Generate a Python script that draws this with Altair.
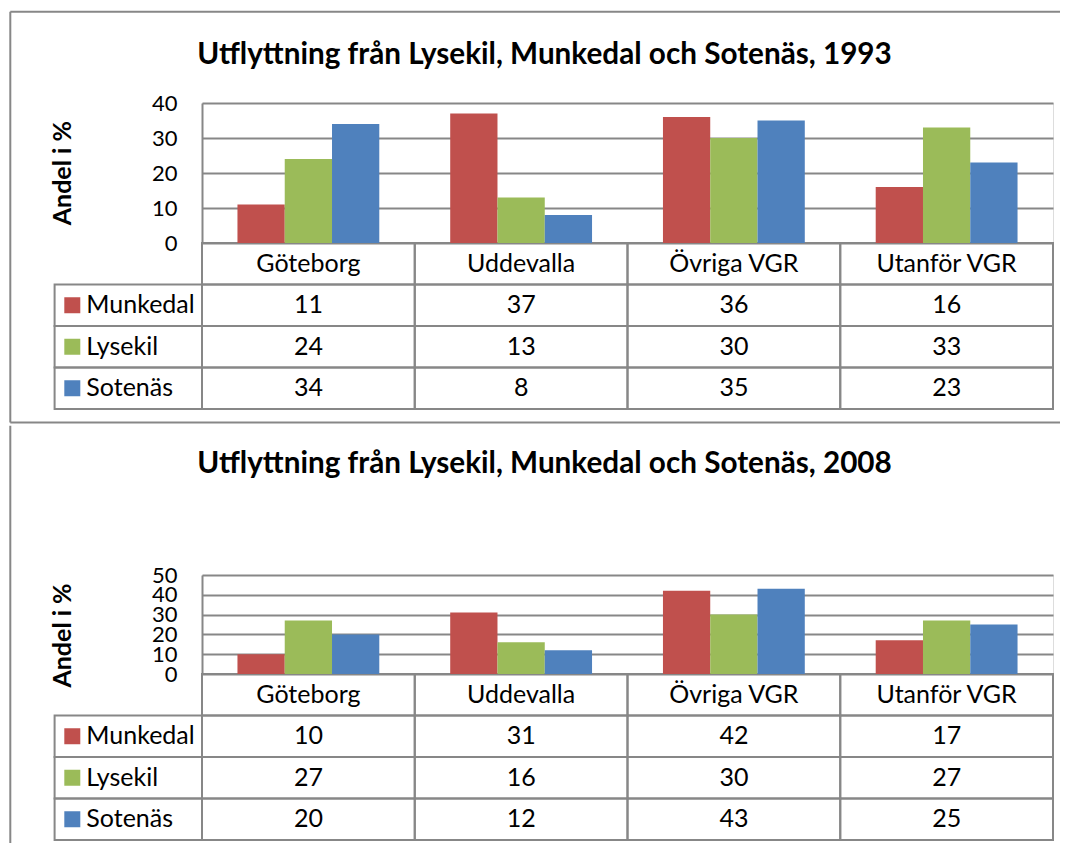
import altair as alt
import pandas as pd

# ---------------- data ----------------
categories = ["Göteborg", "Uddevalla", "Övriga VGR", "Utanför VGR"]
series = ["Munkedal", "Lysekil", "Sotenäs"]
series_colors = ["#C0504D", "#9BBB59", "#4F81BD"]

munkedal_1993 = [11, 37, 36, 16]
lysekil_1993 = [24, 13, 30, 33]
sotenas_1993 = [34, 8, 35, 23]

munkedal_2008 = [10, 31, 42, 17]
lysekil_2008 = [27, 16, 30, 27]
sotenas_2008 = [20, 12, 43, 25]

y_ticks_1993 = [0, 10, 20, 30, 40]
y_ticks_2008 = [0, 10, 20, 30, 40, 50]

title_1993 = "Utflyttning från Lysekil, Munkedal och Sotenäs, 1993"
title_2008 = "Utflyttning från Lysekil, Munkedal och Sotenäs, 2008"
y_title = "Andel i %"

# ---------------- style / layout ----------------
FONT = "Lato"
GRAY = "#878787"
PLOT_W = 851
TABLE_H = 166
LEG_W = 147.4
FRAME_X = [-191.7, 858]
TXT = 25


def long_df(vals):
    rows = []
    for s, v in zip(series, vals):
        for c, x in zip(categories, v):
            rows.append({"category": c, "series": s, "value": x})
    return pd.DataFrame(rows)


def table_df(vals):
    rows = [{"row": "hdr", "category": c, "label": c} for c in categories]
    for s, v in zip(series, vals):
        for c, x in zip(categories, v):
            rows.append({"row": s, "category": c, "label": str(x)})
    return pd.DataFrame(rows)


def make_chart(vals, ticks, plot_h, title, ytitle_y, frame_rows, frame_y, title_dy):
    bars_data = long_df(vals)
    tab_data = table_df(vals)
    leg_data = pd.DataFrame({"col": ["legend"] * len(series), "row": series, "series": series})
    frame_data = pd.DataFrame(frame_rows)

    x_cat = alt.Scale(domain=categories, paddingInner=0, paddingOuter=0)
    y_rows = alt.Scale(domain=["hdr"] + series, paddingInner=0, paddingOuter=0,
                       range=[plot_h, plot_h + TABLE_H])
    x_leg = alt.Scale(domain=["legend"], paddingInner=0, paddingOuter=0, range=[-LEG_W, 0])
    color = alt.Color("series:N", scale=alt.Scale(domain=series, range=series_colors), legend=None)

    bars = alt.Chart(bars_data).mark_bar().encode(
        x=alt.X("category:N", scale=x_cat, axis=None, sort=categories),
        xOffset=alt.XOffset("series:N", scale=alt.Scale(domain=series, paddingInner=0, paddingOuter=0.75),
                            sort=series),
        y=alt.Y("value:Q",
                scale=alt.Scale(domain=[0, ticks[-1]], range=[plot_h, 0], nice=False, zero=True),
                axis=alt.Axis(values=ticks, title=y_title, grid=True, gridColor=GRAY, gridWidth=2,
                              domain=True, domainColor=GRAY, domainWidth=2, ticks=False,
                              labelPadding=25, labelFont=FONT, labelFontSize=22, labelColor="black",
                              labelOverlap=False, labelFlush=False,
                              titleFont=FONT, titleFontSize=25, titleFontWeight="bold",
                              titleColor="black", titleX=-139.7, titleY=ytitle_y, titleAngle=270,
                              titleAlign="center", titleBaseline="middle")),
        color=color,
    )

    cells = alt.Chart(tab_data).mark_rect(filled=False, stroke=GRAY, strokeWidth=2).encode(
        x=alt.X("category:N", scale=x_cat, axis=None, sort=categories),
        y=alt.Y("row:N", scale=y_rows, axis=None),
    )
    cell_text = alt.Chart(tab_data).mark_text(font=FONT, fontSize=TXT, color="black").encode(
        x=alt.X("category:N", scale=x_cat, axis=None, sort=categories),
        y=alt.Y("row:N", scale=y_rows, axis=None),
        text="label:N",
    )
    leg_cells = alt.Chart(leg_data).mark_rect(filled=False, stroke=GRAY, strokeWidth=2).encode(
        x=alt.X("col:N", scale=x_leg, axis=None),
        y=alt.Y("row:N", scale=y_rows, axis=None),
    )
    # points sit at the band centre; offsets move them to the left part of the legend cell
    leg_sq = alt.Chart(leg_data).mark_square(size=256, opacity=1, xOffset=17.7 - LEG_W / 2).encode(
        x=alt.X("col:N", scale=x_leg, axis=None),
        y=alt.Y("row:N", scale=y_rows, axis=None),
        color=color,
    )
    leg_text = alt.Chart(leg_data).mark_text(font=FONT, fontSize=TXT, color="black",
                                             align="left", xOffset=31.7 - LEG_W / 2).encode(
        x=alt.X("col:N", scale=x_leg, axis=None),
        y=alt.Y("row:N", scale=y_rows, axis=None),
        text="series:N",
    )
    frame = alt.Chart(frame_data).mark_rule(color=GRAY, strokeWidth=2).encode(
        x=alt.X("fx:Q", scale=alt.Scale(domain=[0, 1], range=FRAME_X, nice=False, zero=False), axis=None),
        x2="fx2:Q",
        y=alt.Y("fy:Q", scale=alt.Scale(domain=[0, 1], range=frame_y, nice=False, zero=False), axis=None),
        y2="fy2:Q",
    )

    return alt.layer(frame, cells, bars, cell_text, leg_cells, leg_sq, leg_text).resolve_scale(
        x="independent", y="independent"
    ).properties(
        width=PLOT_W,
        height=plot_h + TABLE_H,
        title=alt.TitleParams(text=title, font=FONT, fontSize=29.7, fontWeight="bold", color="black",
                              anchor="middle", frame="group", dx=-83, dy=title_dy, offset=0),
    )


c1 = make_chart([munkedal_1993, lysekil_1993, sotenas_1993], y_ticks_1993, 140, title_1993, 69.7,
                [{"fx": 0, "fx2": 0, "fy": 0, "fy2": 1},
                 {"fx": 0, "fx2": 1, "fy": 0, "fy2": 0},
                 {"fx": 0, "fx2": 1, "fy": 1, "fy2": 1}],
                [-91.3, 319.4], 60)
c2 = make_chart([munkedal_2008, lysekil_2008, sotenas_2008], y_ticks_2008, 99, title_2008, 60,
                [{"fx": 0, "fx2": 0, "fy": 0, "fy2": 1}],
                [-149.3, 268], 55)

chart = alt.vconcat(c1, c2, spacing=0).properties(
    padding={"left": 0, "top": 2, "right": 0, "bottom": 0}
).configure_view(stroke=None).configure(background="white")

chart.save("out.html", embed_options={"renderer": "svg", "actions": False})
